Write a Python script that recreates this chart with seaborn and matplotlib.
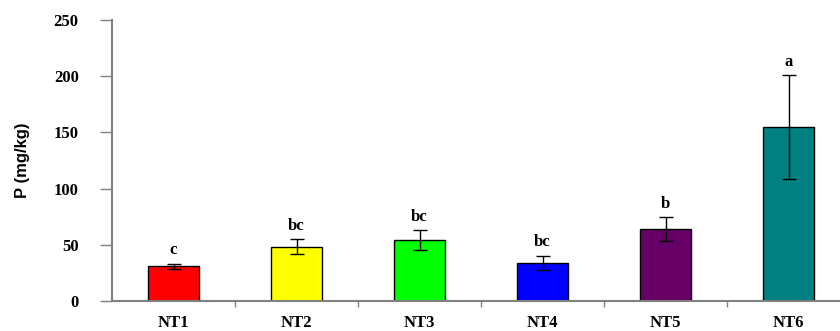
import matplotlib
matplotlib.use("Agg")
import matplotlib.pyplot as plt
import seaborn as sns
import numpy as np

# Phosphorus content per treatment
treatments = ["NT1", "NT2", "NT3", "NT4", "NT5", "NT6"]
p_mean = [31.0, 48.3, 54.0, 34.0, 63.8, 154.5]
p_err = [2.2, 6.5, 9.0, 6.0, 10.8, 46.4]
letters = ["c", "bc", "bc", "bc", "b", "a"]
bar_colors = ["#FF0000", "#FFFF00", "#00FF00", "#0000FF", "#660066", "#008080"]
y_ticks = [0, 50, 100, 150, 200, 250]

sns.set_style("ticks")
plt.rcParams.update({"text.color": "black", "axes.labelcolor": "black",
                     "xtick.color": "black", "ytick.color": "black"})
serif = ["Liberation Serif", "DejaVu Serif"]
sans = ["Liberation Sans", "DejaVu Sans"]

fig = plt.figure(figsize=(8.4, 3.31), dpi=100)
ax = fig.add_axes([112 / 840, 30 / 331, 738 / 840, 281 / 331])

sns.barplot(x=treatments, y=p_mean, hue=treatments, palette=bar_colors,
            legend=False, width=0.41, edgecolor="black", linewidth=1.0,
            saturation=1.0, ax=ax)
ax.errorbar(np.arange(len(treatments)), p_mean, yerr=p_err, fmt="none",
            ecolor="black", elinewidth=1.0, capsize=5, capthick=1.0)

for i, (m, e, lab) in enumerate(zip(p_mean, p_err, letters)):
    ax.annotate(lab, (i, m + e), xytext=(0, 4), textcoords="offset points",
                ha="center", va="bottom", fontsize=12, fontweight="bold",
                family=serif, color="black")

ax.set_xlim(-0.5, 5.5)
ax.set_ylim(0, 250)
ax.set_yticks(y_ticks)
ax.set_yticklabels([str(t) for t in y_ticks], fontsize=12, fontweight="bold",
                   family=serif)
ax.set_xticks(range(len(treatments)))
ax.set_xticklabels(treatments, fontsize=12, fontweight="bold", family=serif)
ax.tick_params(axis="x", which="major", length=0, pad=10)
ax.set_xticks(np.arange(0.5, 5.5, 1.0), minor=True)
ax.tick_params(axis="x", which="minor", length=4, width=1.0, color="#808080",
               direction="out")
ax.tick_params(axis="y", length=9, width=1.0, color="#808080",
               direction="out", pad=15)

ax.set_ylabel("P (mg/kg)", fontsize=12, fontweight="bold", family=sans,
              labelpad=17)
ax.set_xlabel("")

for side in ["top", "right"]:
    ax.spines[side].set_visible(False)
for side in ["left", "bottom"]:
    ax.spines[side].set_color("#808080")
    ax.spines[side].set_linewidth(1.5)

fig.savefig("out.png", dpi=100)
